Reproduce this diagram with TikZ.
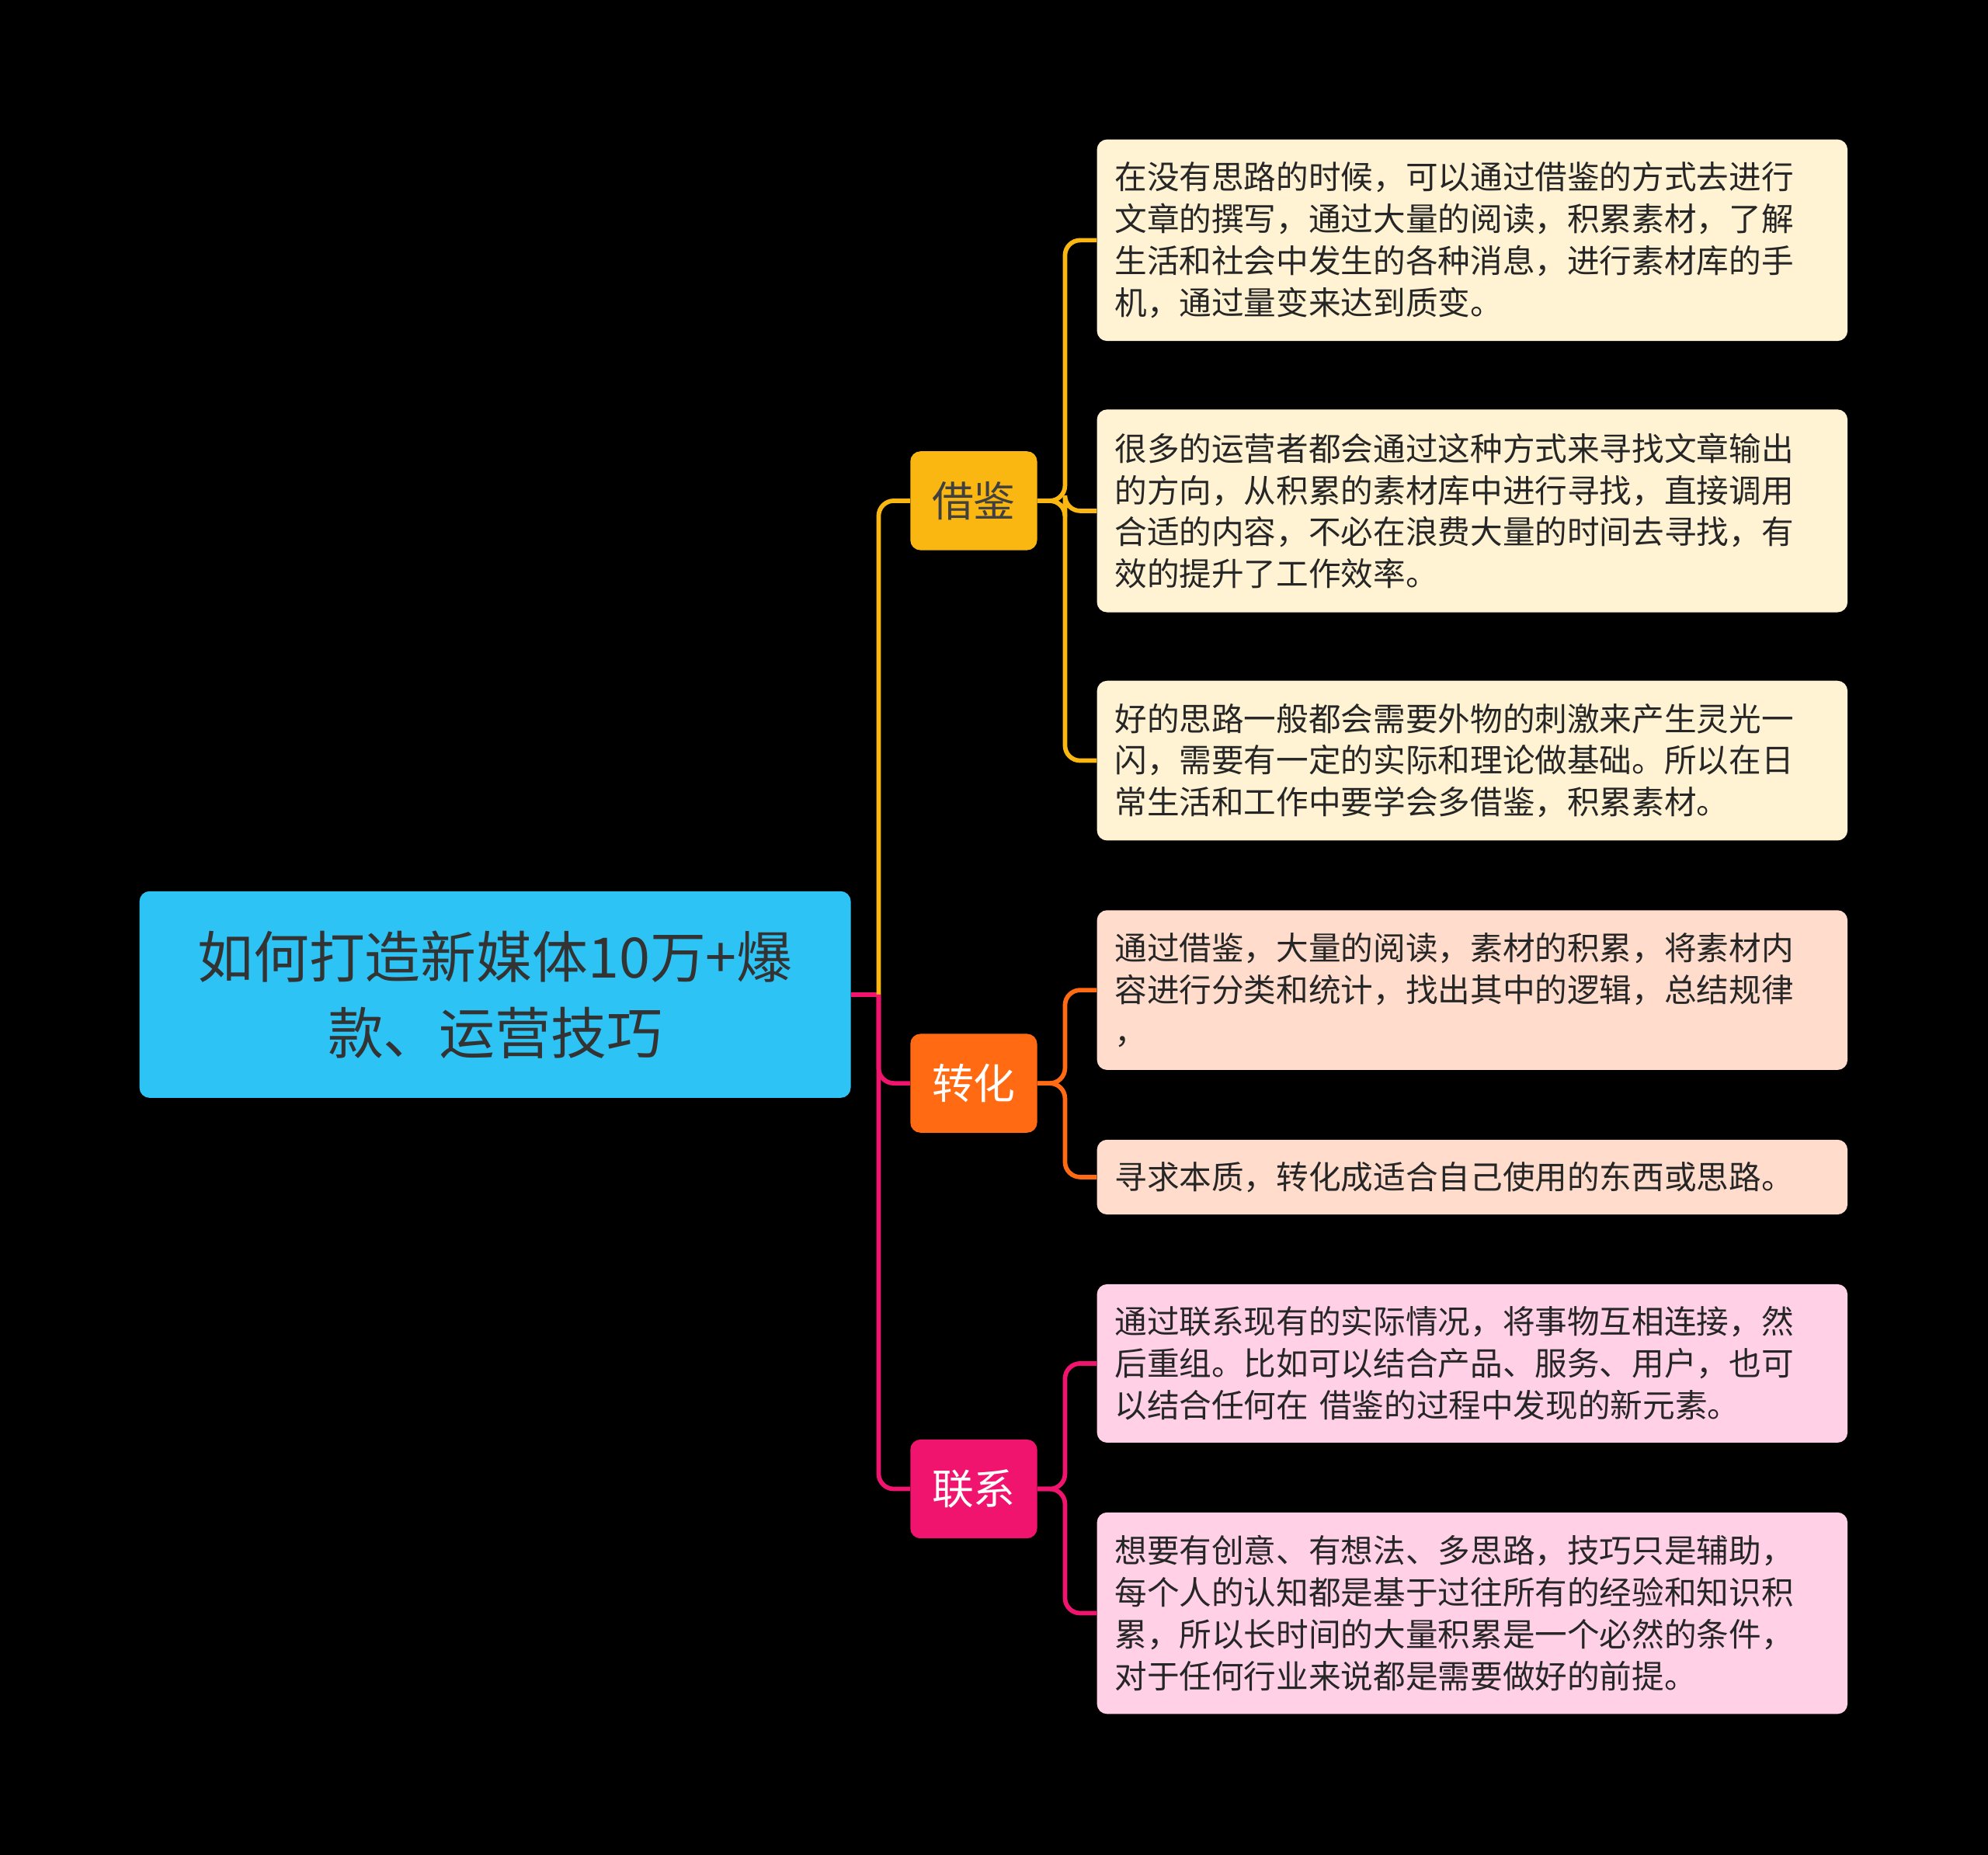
\documentclass[tikz,border=0pt]{standalone}
\usepackage{fontspec}
\setmainfont{Noto Sans CJK SC}
\definecolor{rootc}{RGB}{45,195,245}
\definecolor{jbc}{RGB}{250,183,18}
\definecolor{zhc}{RGB}{255,106,19}
\definecolor{lxc}{RGB}{240,20,110}
\definecolor{jbl}{RGB}{255,243,211}
\definecolor{zhl}{RGB}{255,220,203}
\definecolor{lxl}{RGB}{255,208,230}
\tikzset{
  main/.style={rounded corners=8, minimum width=100, minimum height=78, font=\fontsize{33}{40}\selectfont, inner sep=0},
  leaf/.style={rounded corners=8, anchor=west, minimum width=592, text width=564, inner xsep=14, align=left, font=\fontsize{25.5}{33}\selectfont, text=black!85},
  link/.style={line width=3.5, rounded corners=12},
}
\begin{document}
\begin{tikzpicture}[x=1pt,y=1pt,yscale=-1]
\useasboundingbox[fill=black] (0,0) rectangle (1568,1463);
% root
\node[fill=rootc, rounded corners=8, minimum width=561, minimum height=163, align=center, font=\fontsize{44}{60}\selectfont, text=black!80] (root) at (390.5,784.5) {如何打造新媒体10万+爆\\款、运营技巧};
% main branches
\node[main, fill=jbc, text=black!75] (jb) at (768,395) {借鉴};
\node[main, fill=zhc, text=white] (zh) at (768,854.5) {转化};
\node[main, fill=lxc, text=white] (lx) at (768,1174.5) {联系};
\coordinate (rx) at (693,784.5);
\coordinate (jbx) at (840,395);
\coordinate (zhx) at (840,854.5);
\coordinate (lxx) at (840,1174.5);
% leaves
\node[leaf, fill=jbl, minimum height=159] (l1) at (865,189.5) {在没有思路的时候，可以通过借鉴的方式去进行\\文章的撰写，通过大量的阅读，积累素材，了解\\生活和社会中发生的各种消息，进行素材库的手\\机，通过量变来达到质变。};
\node[leaf, fill=jbl, minimum height=160] (l2) at (865,403) {很多的运营者都会通过这种方式来寻找文章输出\\的方向，从积累的素材库中进行寻找，直接调用\\合适的内容，不必在浪费大量的时间去寻找，有\\效的提升了工作效率。};
\node[leaf, fill=jbl, minimum height=126] (l3) at (865,600) {好的思路一般都会需要外物的刺激来产生灵光一\\闪，需要有一定的实际和理论做基础。所以在日\\常生活和工作中要学会多借鉴，积累素材。};
\node[leaf, fill=zhl, minimum height=126] (l4) at (865,781) {通过借鉴，大量的阅读，素材的积累，将素材内\\容进行分类和统计，找出其中的逻辑，总结规律\\，};
\node[leaf, fill=zhl, minimum height=59] (l5) at (865,928.5) {寻求本质，转化成适合自己使用的东西或思路。};
\node[leaf, fill=lxl, minimum height=125] (l6) at (865,1075.5) {通过联系现有的实际情况，将事物互相连接，然\\后重组。比如可以结合产品、服务、用户，也可\\以结合任何在 借鉴的过程中发现的新元素。};
\node[leaf, fill=lxl, minimum height=159] (l7) at (865,1272.5) {想要有创意、有想法、多思路，技巧只是辅助，\\每个人的认知都是基于过往所有的经验和知识积\\累，所以长时间的大量积累是一个必然的条件，\\对于任何行业来说都是需要做好的前提。};
% connectors
\draw[link, lxc] (root.east) -- (rx);
\draw[link, jbc] (rx) |- (jb.west);
\draw[link, lxc] (rx) |- (zh.west);
\draw[link, lxc] (rx) |- (lx.west);
\foreach \l in {l1,l2,l3} \draw[link, jbc] (jb.east) -- (jbx) |- (\l.west);
\foreach \l in {l4,l5} \draw[link, zhc] (zh.east) -- (zhx) |- (\l.west);
\foreach \l in {l6,l7} \draw[link, lxc] (lx.east) -- (lxx) |- (\l.west);
\end{tikzpicture}
\end{document}
